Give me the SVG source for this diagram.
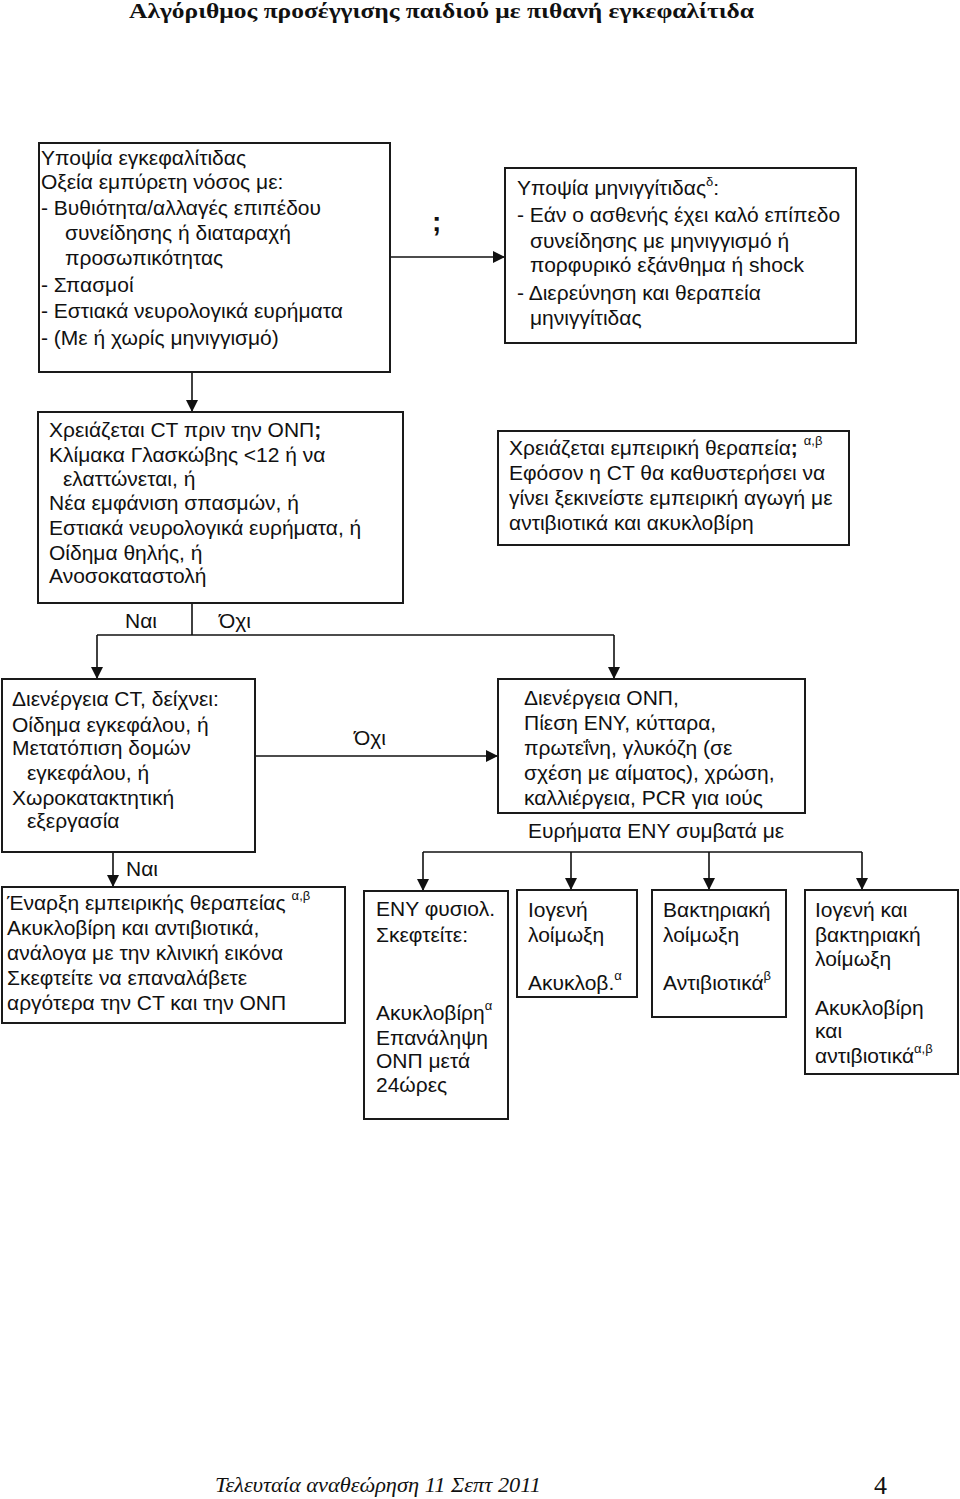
<svg xmlns="http://www.w3.org/2000/svg" width="960" height="1499" viewBox="0 0 960 1499">
<style>
.box{fill:#fff;stroke:#1a1a1a;stroke-width:2}
.t{font-family:"Liberation Sans",Arial,sans-serif;font-size:21px;fill:#111}
.sup{font-family:"Liberation Sans",Arial,sans-serif;font-size:13px;fill:#111}
.c{fill:none;stroke:#111;stroke-width:1.6}
.b{font-weight:bold}
</style>
<defs>
<marker id="ah" markerUnits="userSpaceOnUse" markerWidth="12" markerHeight="12" viewBox="0 0 12 12" refX="12" refY="6" orient="auto">
<path d="M0,0 L12,6 L0,12 Z" fill="#111"/>
</marker>
</defs>
<rect width="960" height="1499" fill="#fff"/>
<text x="129" y="18" font-family="'Liberation Serif','Times New Roman',serif" font-weight="bold" font-size="22" textLength="625" lengthAdjust="spacingAndGlyphs" fill="#111">Αλγόριθμος προσέγγισης παιδιού με πιθανή εγκεφαλίτιδα</text>

<g id="connectors">
<line class="c" x1="390" y1="257" x2="505" y2="257" marker-end="url(#ah)"/>
<line class="c" x1="192" y1="372" x2="192" y2="412" marker-end="url(#ah)"/>
<polyline class="c" points="192,603 192,635"/>
<polyline class="c" points="97,635 614,635"/>
<line class="c" x1="97" y1="635" x2="97" y2="679" marker-end="url(#ah)"/>
<line class="c" x1="614" y1="635" x2="614" y2="679" marker-end="url(#ah)"/>
<line class="c" x1="255" y1="756" x2="498" y2="756" marker-end="url(#ah)"/>
<line class="c" x1="113" y1="852" x2="113" y2="887" marker-end="url(#ah)"/>
<polyline class="c" points="423,852 862,852"/>
<line class="c" x1="423" y1="852" x2="423" y2="891" marker-end="url(#ah)"/>
<line class="c" x1="571" y1="852" x2="571" y2="890" marker-end="url(#ah)"/>
<line class="c" x1="709" y1="852" x2="709" y2="890" marker-end="url(#ah)"/>
<line class="c" x1="862" y1="852" x2="862" y2="890" marker-end="url(#ah)"/>
<text x="432" y="231" font-family="'Liberation Sans',Arial,sans-serif" font-weight="bold" font-size="28" fill="#111">;</text>
<text class="t" x="125" y="628">Ναι</text>
<text class="t" x="219" y="628">Όχι</text>
<text class="t" x="354" y="745">Όχι</text>
<text class="t" x="126" y="876">Ναι</text>
</g>

<g id="n1">
<rect class="box" x="39" y="143" width="351" height="229"/>
<text class="t" x="41" y="165">Υποψία εγκεφαλίτιδας</text>
<text class="t" x="41" y="189">Οξεία εμπύρετη νόσος με:</text>
<text class="t" x="41" y="215">- Βυθιότητα/αλλαγές επιπέδου</text>
<text class="t" x="65" y="240">συνείδησης ή διαταραχή</text>
<text class="t" x="65" y="265">προσωπικότητας</text>
<text class="t" x="41" y="292">- Σπασμοί</text>
<text class="t" x="41" y="318">- Εστιακά νευρολογικά ευρήματα</text>
<text class="t" x="41" y="345">- (Με ή χωρίς μηνιγγισμό)</text>
</g>

<g id="n2">
<rect class="box" x="505" y="168" width="351" height="175"/>
<text class="t" x="517" y="195">Υποψία μηνιγγίτιδας<tspan class="sup" dy="-9">δ</tspan><tspan dy="9">:</tspan></text>
<text class="t" x="517" y="222">- Εάν ο ασθενής έχει καλό επίπεδο</text>
<text class="t" x="530" y="248">συνείδησης με μηνιγγισμό ή</text>
<text class="t" x="530" y="272">πορφυρικό εξάνθημα ή shock</text>
<text class="t" x="517" y="300">- Διερεύνηση και θεραπεία</text>
<text class="t" x="530" y="325">μηνιγγίτιδας</text>
</g>

<g id="n3">
<rect class="box" x="38" y="412" width="365" height="191"/>
<text class="t" x="49" y="437">Χρειάζεται CT πριν την ΟΝΠ<tspan class="b">;</tspan></text>
<text class="t" x="49" y="462">Κλίμακα Γλασκώβης &lt;12 ή να</text>
<text class="t" x="63" y="486">ελαττώνεται, ή</text>
<text class="t" x="49" y="510">Νέα εμφάνιση σπασμών, ή</text>
<text class="t" x="49" y="535">Εστιακά νευρολογικά ευρήματα, ή</text>
<text class="t" x="49" y="560">Οίδημα θηλής, ή</text>
<text class="t" x="49" y="583">Ανοσοκαταστολή</text>
</g>

<g id="n4">
<rect class="box" x="498" y="431" width="351" height="114"/>
<text class="t" x="509" y="455">Χρειάζεται εμπειρική θεραπεία<tspan class="b">;</tspan><tspan class="sup" dx="6" dy="-10">α,β</tspan></text>
<text class="t" x="509" y="480">Εφόσον η CT θα καθυστερήσει να</text>
<text class="t" x="509" y="505">γίνει ξεκινείστε εμπειρική αγωγή με</text>
<text class="t" x="509" y="530">αντιβιοτικά και ακυκλοβίρη</text>
</g>

<g id="n5">
<rect class="box" x="2" y="679" width="253" height="173"/>
<text class="t" x="12" y="706">Διενέργεια CT, δείχνει:</text>
<text class="t" x="12" y="732">Οίδημα εγκεφάλου, ή</text>
<text class="t" x="12" y="755">Μετατόπιση δομών</text>
<text class="t" x="27" y="780">εγκεφάλου, ή</text>
<text class="t" x="12" y="805">Χωροκατακτητική</text>
<text class="t" x="27" y="828">εξεργασία</text>
</g>

<g id="n6">
<rect class="box" x="498" y="679" width="307" height="134"/>
<text class="t" x="524" y="705">Διενέργεια ΟΝΠ,</text>
<text class="t" x="524" y="730">Πίεση ΕΝΥ, κύτταρα,</text>
<text class="t" x="524" y="755">πρωτεΐνη, γλυκόζη (σε</text>
<text class="t" x="524" y="780">σχέση με αίματος), χρώση,</text>
<text class="t" x="524" y="805">καλλιέργεια, PCR για ιούς</text>
<text class="t" x="528" y="838">Ευρήματα ΕΝΥ συμβατά με</text>
</g>

<g id="n7">
<rect class="box" x="2" y="887" width="343" height="136"/>
<text class="t" x="7" y="910">Έναρξη εμπειρικής θεραπείας<tspan class="sup" dx="6" dy="-10">α,β</tspan></text>
<text class="t" x="7" y="935">Ακυκλοβίρη και αντιβιοτικά,</text>
<text class="t" x="7" y="960">ανάλογα με την κλινική εικόνα</text>
<text class="t" x="7" y="985">Σκεφτείτε να επαναλάβετε</text>
<text class="t" x="7" y="1010">αργότερα την CT και την ΟΝΠ</text>
</g>

<g id="n8">
<rect class="box" x="364" y="891" width="144" height="228"/>
<text class="t" x="376" y="916">ΕΝΥ φυσιολ.</text>
<text class="t" x="376" y="942">Σκεφτείτε:</text>
<text class="t" x="376" y="1020">Ακυκλοβίρη<tspan class="sup" dy="-10">α</tspan></text>
<text class="t" x="376" y="1045">Επανάληψη</text>
<text class="t" x="376" y="1068">ΟΝΠ μετά</text>
<text class="t" x="376" y="1092">24ώρες</text>
</g>

<g id="n9">
<rect class="box" x="517" y="890" width="120" height="107"/>
<text class="t" x="528" y="917">Ιογενή</text>
<text class="t" x="528" y="942">λοίμωξη</text>
<text class="t" x="528" y="990">Ακυκλοβ.<tspan class="sup" dy="-10">α</tspan></text>
</g>

<g id="n10">
<rect class="box" x="652" y="890" width="134" height="127"/>
<text class="t" x="663" y="917">Βακτηριακή</text>
<text class="t" x="663" y="942">λοίμωξη</text>
<text class="t" x="663" y="990">Αντιβιοτικά<tspan class="sup" dy="-10">β</tspan></text>
</g>

<g id="n11">
<rect class="box" x="805" y="890" width="153" height="184"/>
<text class="t" x="815" y="917">Ιογενή και</text>
<text class="t" x="815" y="942">βακτηριακή</text>
<text class="t" x="815" y="966">λοίμωξη</text>
<text class="t" x="815" y="1015">Ακυκλοβίρη</text>
<text class="t" x="815" y="1038">και</text>
<text class="t" x="815" y="1063">αντιβιοτικά<tspan class="sup" dy="-10">α,β</tspan></text>
</g>

<text x="215" y="1492" font-family="'Liberation Serif','Times New Roman',serif" font-style="italic" font-size="22" textLength="326" lengthAdjust="spacingAndGlyphs" fill="#111">Τελευταία αναθεώρηση 11 Σεπτ 2011</text>
<text x="874" y="1494" font-family="'Liberation Serif','Times New Roman',serif" font-size="26" fill="#111">4</text>
</svg>
